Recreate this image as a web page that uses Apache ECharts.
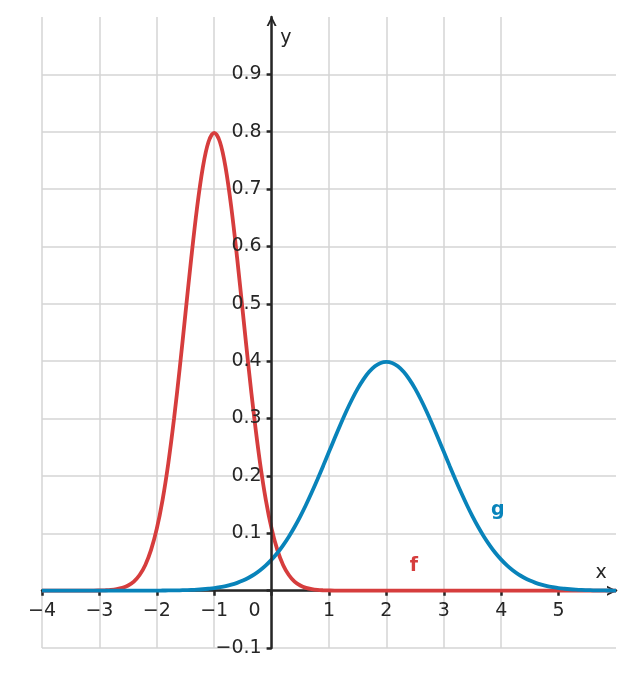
<!DOCTYPE html>
<html>
<head>
<meta charset="utf-8">
<script src="https://cdn.jsdelivr.net/npm/echarts@6/dist/echarts.min.js"></script>
<style>
  html, body { margin: 0; padding: 0; background: #fff; }
  #chart { width: 633px; height: 677px; }
</style>
</head>
<body>
<div id="chart"></div>
<script>
'use strict';

var xs = [
  -4, -3.9, -3.8, -3.7, -3.6, -3.5, -3.4, -3.3, -3.2, -3.1,
  -3, -2.9, -2.8, -2.7, -2.6, -2.5, -2.4, -2.3, -2.2, -2.1,
  -2, -1.9, -1.8, -1.7, -1.6, -1.5, -1.4, -1.3, -1.2, -1.1,
  -1, -0.9, -0.8, -0.7, -0.6, -0.5, -0.4, -0.3, -0.2, -0.1,
  0, 0.1, 0.2, 0.3, 0.4, 0.5, 0.6, 0.7, 0.8, 0.9,
  1, 1.1, 1.2, 1.3, 1.4, 1.5, 1.6, 1.7, 1.8, 1.9,
  2, 2.1, 2.2, 2.3, 2.4, 2.5, 2.6, 2.7, 2.8, 2.9,
  3, 3.1, 3.2, 3.3, 3.4, 3.5, 3.6, 3.7, 3.8, 3.9,
  4, 4.1, 4.2, 4.3, 4.4, 4.5, 4.6, 4.7, 4.8, 4.9,
  5, 5.1, 5.2, 5.3, 5.4, 5.5, 5.6, 5.7, 5.8, 5.9,
  6
];

// f : narrow peak near x = -1
var fVals = [
  0, 0, 0, 0, 0, 0, 0, 0, 0.0001, 0.0001,
  0.0003, 0.0006, 0.0012, 0.0025, 0.0048, 0.0089, 0.0158, 0.0272, 0.0448, 0.0710,
  0.1080, 0.1579, 0.2218, 0.2995, 0.3884, 0.4839, 0.5794, 0.6664, 0.7365, 0.7821,
  0.7979, 0.7821, 0.7365, 0.6664, 0.5794, 0.4839, 0.3884, 0.2995, 0.2218, 0.1579,
  0.1080, 0.0710, 0.0448, 0.0272, 0.0158, 0.0089, 0.0048, 0.0025, 0.0012, 0.0006,
  0.0003, 0.0001, 0.0001, 0, 0, 0, 0, 0, 0, 0,
  0, 0, 0, 0, 0, 0, 0, 0, 0, 0,
  0, 0, 0, 0, 0, 0, 0, 0, 0, 0,
  0, 0, 0, 0, 0, 0, 0, 0, 0, 0,
  0, 0, 0, 0, 0, 0, 0, 0, 0, 0,
  0
];

// g : wide peak near x = 2
var gVals = [
  0, 0, 0, 0, 0, 0, 0, 0, 0, 0,
  0, 0, 0, 0, 0, 0, 0, 0, 0.0001, 0.0001,
  0.0001, 0.0002, 0.0003, 0.0004, 0.0006, 0.0009, 0.0012, 0.0017, 0.0024, 0.0033,
  0.0044, 0.0060, 0.0079, 0.0104, 0.0136, 0.0175, 0.0224, 0.0283, 0.0355, 0.0440,
  0.0540, 0.0656, 0.0790, 0.0940, 0.1109, 0.1295, 0.1497, 0.1714, 0.1942, 0.2179,
  0.2420, 0.2661, 0.2897, 0.3123, 0.3332, 0.3521, 0.3683, 0.3814, 0.3910, 0.3970,
  0.3989, 0.3970, 0.3910, 0.3814, 0.3683, 0.3521, 0.3332, 0.3123, 0.2897, 0.2661,
  0.2420, 0.2179, 0.1942, 0.1714, 0.1497, 0.1295, 0.1109, 0.0940, 0.0790, 0.0656,
  0.0540, 0.0440, 0.0355, 0.0283, 0.0224, 0.0175, 0.0136, 0.0104, 0.0079, 0.0060,
  0.0044, 0.0033, 0.0024, 0.0017, 0.0012, 0.0009, 0.0006, 0.0004, 0.0003, 0.0002,
  0.0001
];

var xTicks = [-4, -3, -2, -1, 0, 1, 2, 3, 4, 5];
var yTicks = [-0.1, 0, 0.1, 0.2, 0.3, 0.4, 0.5, 0.6, 0.7, 0.8, 0.9];
var yLabels = [-0.1, 0.1, 0.2, 0.3, 0.4, 0.5, 0.6, 0.7, 0.8, 0.9];

// text marks: [text, x, y]
var fLabel = ['f', 2.48, 0.042];
var gLabel = ['g', 3.94, 0.141];
var xName = ['x', 5.74, 0.030];
var yName = ['y', 0.25, 0.964];

var RED = '#d63d3d';
var BLUE = '#0883ba';
var INK = '#262626';
var FONT = 'DejaVu Sans';

function pairs(vals) {
  return xs.map(function (x, i) { return [x, vals[i]]; });
}

function minus(v) {
  return String(v).replace('-', '\u2212');
}

var chevron = 'path://M0,10 L5,0 L10,10 L8,10 L5,4 L2,10 Z';

function textMarks(items, color, bold) {
  return {
    symbol: 'circle',
    symbolSize: 1,
    silent: true,
    itemStyle: { color: 'rgba(0,0,0,0)' },
    label: {
      show: true,
      position: 'inside',
      fontFamily: FONT,
      fontSize: 19,
      fontWeight: bold ? 'bold' : 'normal',
      color: color
    },
    data: items.map(function (item) {
      return { coord: [item[1], item[2]], value: item[0], label: { formatter: item[0] } };
    })
  };
}

var gridLine = { color: '#d4d4d4', width: 1.5 };

var option = {
  backgroundColor: '#fff',
  animation: false,
  grid: { left: 42, right: 17, top: 17, bottom: 29, containLabel: false, outerBoundsMode: 'none' },
  xAxis: {
    type: 'value',
    min: -4,
    max: 6,
    interval: 1,
    axisLine: {
      onZero: true,
      onZeroAxisIndex: 0,
      lineStyle: { color: INK, width: 2.5 },
      symbol: ['none', chevron],
      symbolSize: [14, 10],
      symbolOffset: [0, -4]
    },
    axisTick: {
      show: true,
      length: 5,
      customValues: xTicks,
      lineStyle: { color: INK, width: 2.5 }
    },
    axisLabel: {
      customValues: xTicks,
      margin: 11,
      fontFamily: FONT,
      fontSize: 19,
      color: INK,
      formatter: function (v) {
        if (v === 0) return '{o|0}';
        return minus(v);
      },
      rich: {
        o: { fontFamily: FONT, fontSize: 19, color: INK, padding: [0, 34, 0, 0] }
      }
    },
    splitLine: { show: true, showMaxLine: false, lineStyle: gridLine }
  },
  yAxis: [{
    // axis line, ticks and labels, drawn above the curves
    type: 'value',
    min: -0.1,
    max: 1.0,
    interval: 0.1,
    z: 5,
    axisLine: {
      onZero: true,
      lineStyle: { color: INK, width: 2.5 },
      symbol: ['none', chevron],
      symbolSize: [14, 10],
      symbolOffset: [0, -4]
    },
    axisTick: {
      show: true,
      length: 5,
      customValues: yTicks,
      lineStyle: { color: INK, width: 2.5 }
    },
    axisLabel: {
      customValues: yLabels,
      margin: 10,
      fontFamily: FONT,
      fontSize: 19,
      color: INK,
      formatter: function (v) { return minus(v); }
    },
    splitLine: { show: false }
  }, {
    // horizontal grid lines only, below the curves
    type: 'value',
    min: -0.1,
    max: 1.0,
    interval: 0.1,
    position: 'left',
    axisLine: { show: false, onZero: false },
    axisTick: { show: false },
    axisLabel: { show: false },
    splitLine: { show: true, showMaxLine: false, lineStyle: gridLine }
  }],
  series: [{
    name: 'f',
    type: 'line',
    yAxisIndex: 0,
    data: pairs(fVals),
    showSymbol: false,
    smooth: 0.35,
    lineStyle: { color: RED, width: 3.8 },
    markPoint: textMarks([fLabel], RED, true)
  }, {
    name: 'g',
    type: 'line',
    yAxisIndex: 0,
    data: pairs(gVals),
    showSymbol: false,
    smooth: 0.35,
    lineStyle: { color: BLUE, width: 3.8 },
    markPoint: textMarks([gLabel], BLUE, true)
  }, {
    name: 'names',
    type: 'scatter',
    yAxisIndex: 0,
    data: [],
    markPoint: textMarks([xName, yName], INK, false)
  }]
};

var chart = echarts.init(document.getElementById('chart'));
chart.setOption(option);

// tick labels sit at the grid edge; pull them in next to the axes crossing at 0
var origin = chart.convertToPixel({ gridIndex: 0 }, [0, 0]);
var corner = chart.convertToPixel({ gridIndex: 0 }, [-4, -0.1]);
chart.setOption({
  xAxis: { axisLabel: { margin: 11 - (corner[1] - origin[1]) } },
  yAxis: [{ axisLabel: { margin: 10 - (origin[0] - corner[0]) } }, {}]
});
</script>
</body>
</html>
